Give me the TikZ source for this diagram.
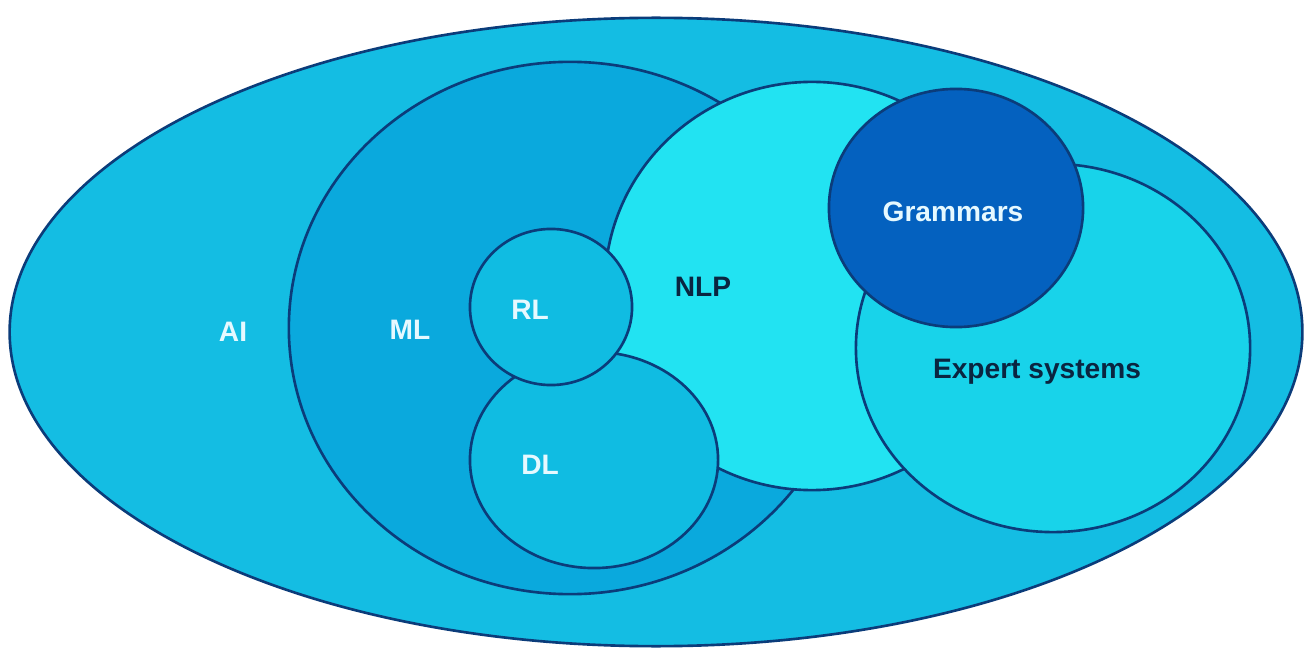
\documentclass[tikz,border=0pt]{standalone}
\usepackage{fontspec}
\setmainfont{Liberation Sans}
\definecolor{edgeblue}{HTML}{0B3C7A}
\definecolor{aifill}{HTML}{14BDE3}
\definecolor{mlfill}{HTML}{0AA9DD}
\definecolor{nlpfill}{HTML}{22E3F2}
\definecolor{expfill}{HTML}{18D3EA}
\definecolor{gramfill}{HTML}{0461BF}
\definecolor{subfill}{HTML}{10BCE2}
\definecolor{lighttext}{HTML}{E6F9FF}
\definecolor{darktext}{HTML}{0A2540}
\tikzset{
  region/.style={draw=edgeblue, line width=0.75pt},
  lbl/.style={font=\bfseries\fontsize{8}{9.6}\selectfont, text=lighttext, inner sep=0pt},
  dlbl/.style={lbl, text=darktext}
}
\begin{document}
\begin{tikzpicture}[x=0.01cm,y=-0.01cm]
\useasboundingbox (0,0) rectangle (1307,652);
\fill[white] (0,0) rectangle (1307,652);
% regions, back to front
\draw[region, fill=aifill] (656,332) ellipse [x radius=6.46cm, y radius=3.14cm];
\draw[region, fill=mlfill] (570,328) ellipse [x radius=2.81cm, y radius=2.66cm];
\draw[region, fill=nlpfill] (812,286) ellipse [x radius=2.07cm, y radius=2.04cm];
\draw[region, fill=expfill] (1053,348) ellipse [x radius=1.97cm, y radius=1.84cm];
\draw[region, fill=gramfill] (956,208) ellipse [x radius=1.27cm, y radius=1.19cm];
\draw[region, fill=subfill] (594,460) ellipse [x radius=1.24cm, y radius=1.08cm];
\draw[region, fill=subfill] (551,307) ellipse [x radius=0.81cm, y radius=0.78cm];
% labels
\node[lbl] (ai) at (233,332) {AI};
\node[lbl] (ml) at (410,330) {ML};
\node[lbl] (rl) at (530,310) {RL};
\node[lbl] (dl) at (540,465) {DL};
\node[dlbl] (nlp) at (703,287) {NLP};
\node[lbl] (gram) at (953,212) {Grammars};
\node[dlbl] (exp) at (1037,372) {Expert systems};
\end{tikzpicture}
\end{document}
